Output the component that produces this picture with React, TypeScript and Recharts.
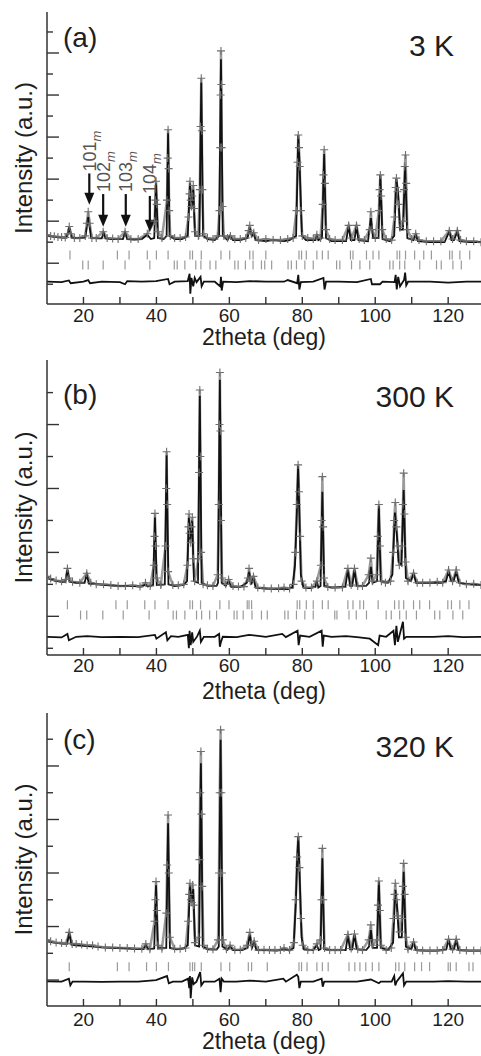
import { ComposedChart, Line, ReferenceLine, Scatter, XAxis, YAxis } from 'recharts'

type Pt = [number, number]

const FONT = '"Liberation Sans", Arial, sans-serif'
const INK = '#1e1e1e'
const AXIS = '#333'
const OBS = '#6e6e6e'

const angleTicks = [20, 30, 40, 50, 60, 70, 80, 90, 100, 110, 120]

// ---- panel (a) 3 K ----
const obsA: Pt[] = [
  [10, 2.35], [11, 2.3], [12, 2.28], [13, 2.25], [14, 2.25], [15, 2.22], [15.7, 2.4], [16.1, 2.75], [16.5, 2.4], [17.5, 2.2],
  [19, 2.2], [20.5, 2.3], [20.9, 2.9], [21.3, 3.45], [21.7, 2.9], [22.3, 2.2], [23.5, 2.2], [25.4, 2.5], [26.5, 2.2], [28, 2.18],
  [29.5, 2.15], [31.4, 2.5], [33, 2.15], [35, 2.15], [37.5, 2.4], [39.5, 3.0], [39.7, 4.0], [39.9, 4.9], [40.1, 3.8], [40.4, 2.5],
  [41.5, 2.2], [42.9, 4], [43.1, 6], [43.2, 7.35], [43.35, 5.5], [43.5, 3.5], [43.8, 2.3], [45, 2.2], [46.5, 2.2], [48, 2.25],
  [48.8, 3.2], [49.1, 4.3], [49.2, 4.9], [49.4, 4.0], [49.6, 3.7], [49.8, 4.2], [50.1, 4.7], [50.3, 3.6], [50.6, 2.5], [51.5, 2.3],
  [51.9, 4.5], [52.1, 7.5], [52.3, 9.8], [52.45, 7.3], [52.6, 4.5], [52.9, 2.4], [54, 2.2], [55.5, 2.15], [56.8, 2.3], [57.3, 3.5],
  [57.5, 6.5], [57.6, 9], [57.7, 11.1], [57.8, 9.5], [57.9, 6.5], [58.1, 3.7], [58.5, 2.3], [59.5, 2.2], [60.3, 2.3], [61.5, 2.15],
  [63, 2.15], [64.5, 2.2], [65.3, 2.55], [65.6, 2.8], [66, 2.4], [66.7, 2.45], [68, 2.1], [70, 2.15], [72, 2.1], [74, 2.1],
  [76, 2.15], [77.5, 2.2], [78.4, 3.5], [78.7, 5.8], [78.9, 7.1], [79.1, 6.5], [79.3, 5.6], [79.6, 3.5], [80, 2.3], [81.5, 2.2],
  [83, 2.15], [84, 2.35], [85, 2.2], [85.6, 3.8], [85.8, 5.2], [86, 6.4], [86.2, 4.8], [86.5, 2.6], [87.5, 2.15], [89, 2.1],
  [91, 2.1], [92.7, 2.8], [93.5, 2.2], [94.85, 2.8], [95.6, 2.15], [97, 2.1], [98.5, 2.6], [98.8, 3.45], [99.1, 2.6], [100, 2.2],
  [101, 3.5], [101.2, 4.5], [101.4, 5.2], [101.6, 4.2], [101.9, 2.6], [103, 2.15], [104.5, 2.1], [105.3, 3.2], [105.6, 4.6], [105.8, 5.05],
  [106.1, 4.4], [106.4, 3.8], [106.8, 2.7], [107.7, 3], [107.9, 4.5], [108.1, 5.6], [108.3, 6.15], [108.5, 4.8], [108.8, 2.6], [110, 2.15],
  [111.1, 2.4], [112, 2.1], [114, 2.05], [116, 2.05], [118, 2.05], [120.3, 2.55], [121.2, 2.15], [122.5, 2.55], [123.4, 2.1], [125, 2.05],
  [127, 2.05], [129, 2.0],
]
const calcA: Pt[] = [
  [10, 2.3], [12, 2.25], [14, 2.22], [15.4, 2.22], [16.1, 2.7], [16.8, 2.22], [18, 2.2], [20.5, 2.22], [21.3, 3.2], [22.1, 2.2],
  [24, 2.18], [25, 2.18], [25.5, 2.45], [26, 2.18], [28, 2.15], [30.8, 2.15], [31.4, 2.45], [32, 2.15], [34, 2.12], [36, 2.15],
  [37.5, 2.35], [38.5, 2.15], [39.4, 2.2], [39.9, 4.8], [40.4, 2.2], [42, 2.15], [42.8, 2.3], [43.2, 7.2], [43.6, 2.3], [45, 2.15],
  [47, 2.15], [48.6, 2.3], [49.2, 4.8], [49.6, 3.6], [50.1, 4.5], [50.6, 2.3], [51.8, 2.3], [52.3, 9.6], [52.8, 2.3], [54, 2.15],
  [56, 2.1], [57.2, 2.3], [57.7, 10.7], [58.2, 2.3], [59.5, 2.1], [60.1, 2.3], [61, 2.1], [63, 2.1], [65, 2.2], [65.6, 2.7],
  [66.2, 2.3], [66.6, 2.45], [67.2, 2.1], [70, 2.05], [72, 2.1], [75, 2.05], [76.5, 2.1], [78.3, 2.3], [78.9, 7.1], [79.3, 5.5],
  [79.9, 2.3], [81, 2.1], [83.6, 2.1], [84, 2.3], [84.4, 2.1], [85.4, 2.2], [86, 6.2], [86.5, 2.2], [88, 2.05], [92, 2.05],
  [92.7, 2.75], [93.3, 2.1], [94.3, 2.1], [94.85, 2.75], [95.4, 2.1], [98, 2.05], [98.8, 3.15], [99.4, 2.2], [100.9, 2.2], [101.4, 5.2],
  [102, 2.15], [104, 2.05], [105.2, 2.3], [105.8, 5.0], [106.3, 4.3], [106.8, 2.6], [107.6, 2.6], [108.2, 5.6], [108.8, 2.2], [110.5, 2.1],
  [111.1, 2.35], [111.7, 2.05], [115, 2.0], [119, 2.0], [120.3, 2.5], [120.9, 2.1], [121.6, 2.1], [122.5, 2.5], [123.1, 2.05], [126, 2.0],
  [129, 2.0],
]
const diffA: Pt[] = [
  [10, 0.12], [14, 0.1], [16, 0.18], [16.5, 0.05], [20, 0.12], [21.3, 0.2], [21.8, 0.05], [25, 0.12], [30, 0.1], [31.4, 0.0],
  [32, 0.15], [36, 0.12], [39.9, 0.15], [43.2, 0.25], [43.6, 0.0], [45, 0.12], [48.6, 0.15], [49.1, 0.5], [49.3, -0.45], [49.6, 0.3],
  [50.1, -0.1], [50.5, 0.3], [51, 0.1], [52.1, 0.35], [52.4, -0.1], [53, 0.12], [56, 0.12], [57.5, -0.1], [57.7, 0.35], [57.9, -0.3],
  [58.3, 0.12], [62, 0.1], [65.6, 0.15], [70, 0.12], [75, 0.12], [76, 0.2], [78.6, 0.05], [78.9, 0.45], [79.2, -0.25], [79.6, 0.1],
  [83, 0.12], [85.8, 0.3], [86.1, -0.25], [86.5, 0.12], [90, 0.12], [95, 0.1], [98.8, 0.25], [99.1, 0.0], [101.3, 0.0], [102, 0.12],
  [105.3, 0.1], [105.6, 0.45], [105.9, -0.25], [106.3, 0.35], [106.8, -0.1], [107.9, 0.2], [108.2, 0.55], [108.5, -0.05], [109, 0.12], [115, 0.12],
  [120, 0.08], [125, 0.12], [129, 0.12],
]
const phase1A = [16.3, 29.3, 32.5, 37.5, 40.0, 43.2, 49.2, 49.9, 52.3, 57.7, 60.1, 65.6, 66.5, 70, 79.1, 79.8, 81.1, 84, 85.5, 87.1,
  93.2, 93.9, 97.6, 99.4, 101, 106, 106.7, 108.3, 110.8, 113.3, 115.4, 120.4, 121.1, 123.2, 125.9]
const phase2A = [19.8, 21.3, 25.4, 31.4, 38.2, 44.9, 45.7, 47.8, 50.8, 52.2, 54.7, 56.3, 61.5, 62.4, 64.4, 66.5, 68.8, 69.7, 71.6, 76.1,
  77.0, 78.4, 80.7, 83, 89.4, 90.3, 93.5, 95.8, 98.5, 104, 104.9, 106.7, 108.1, 112.2, 116.8, 118.1, 121.3, 123.6]

// superlattice arrows in panel (a)
const arrowLabels = ['101', '102', '103', '104']
const arrowAngle = [21.6, 25.4, 31.6, 38.2]
const arrowTip = [3.78, 2.74, 2.74, 2.5]
const arrowTail = [5.27, 4.29, 4.29, 4.2]

// ---- panel (b) 300 K ----
const obsB: Pt[] = [
  [10, 2.25], [11, 2.18], [12.5, 2.12], [14, 2.1], [15.2, 2.15], [15.6, 2.5], [16.0, 2.2], [17, 2.08], [19, 2.05], [20.9, 2.35],
  [22, 2.05], [23.5, 2.0], [25.5, 2.0], [27.5, 1.98], [29.5, 1.95], [31.5, 1.95], [33.5, 1.97], [35.5, 1.93], [37, 2.05], [38.3, 1.95],
  [39.3, 2.6], [39.5, 3.5], [39.6, 4.22], [39.75, 3.2], [40, 2.2], [41.2, 1.98], [42.5, 3.2], [42.7, 5.0], [42.8, 6.15], [42.95, 4.5],
  [43.2, 2.4], [44.5, 1.98], [46, 1.97], [47.5, 2.0], [48.5, 2.6], [48.8, 3.8], [48.95, 4.2], [49.1, 3.6], [49.4, 3.3], [49.6, 3.8],
  [49.85, 4.1], [50.1, 2.8], [50.5, 2.1], [51.5, 2.8], [51.7, 5.5], [51.9, 8.08], [52.05, 6.0], [52.25, 3.0], [52.8, 2.0], [54, 1.97],
  [55.5, 1.95], [56.8, 2.3], [57.1, 4.5], [57.3, 7.0], [57.4, 8.63], [57.55, 6.8], [57.7, 4.0], [58.0, 2.2], [59, 2.0], [59.8, 2.15],
  [61, 1.95], [62.5, 1.93], [64, 1.93], [65.1, 2.2], [65.4, 2.5], [65.8, 2.1], [66.6, 2.25], [67.8, 1.9], [69.5, 1.88], [71.5, 1.87],
  [73.5, 1.88], [75, 1.9], [76.5, 1.87], [77.6, 2.0], [78.1, 3.0], [78.5, 4.5], [78.85, 5.74], [79.1, 4.9], [79.4, 3.5], [79.8, 2.1],
  [81, 1.9], [82.5, 1.9], [84, 2.1], [85.1, 2.6], [85.3, 4.0], [85.5, 5.37], [85.7, 3.8], [85.95, 2.2], [87, 1.92], [89, 1.9],
  [91, 1.9], [92.5, 2.5], [93.4, 1.98], [94.3, 2.5], [95.2, 1.95], [96.5, 1.95], [98.2, 2.3], [98.8, 2.82], [99.3, 2.1], [100.4, 2.3],
  [100.7, 3.5], [101, 4.5], [101.3, 3.2], [101.7, 2.1], [102.8, 2.05], [104.2, 2.1], [104.9, 3.0], [105.2, 4.0], [105.5, 4.56], [105.8, 3.8],
  [106.2, 3.2], [106.6, 2.6], [107.3, 3.2], [107.6, 4.5], [107.8, 5.48], [108.0, 4.2], [108.3, 2.7], [109, 2.1], [110.5, 2.35], [111.5, 2.05],
  [113, 2.05], [115, 2.05], [117, 2.08], [118.5, 2.05], [120.1, 2.45], [121.2, 2.1], [122.2, 2.45], [123.2, 2.05], [125, 2.0], [127, 2.02],
  [129, 1.98],
]
const calcB: Pt[] = [
  [10, 2.2], [12, 2.12], [14, 2.08], [15.0, 2.08], [15.6, 2.45], [16.2, 2.08], [18, 2.05], [20.3, 2.05], [20.9, 2.3], [21.5, 2.02],
  [24, 2.0], [27, 1.97], [30, 1.95], [33, 1.95], [36, 1.93], [37, 2.0], [37.6, 1.93], [39.1, 1.98], [39.6, 4.1], [40.1, 1.98],
  [42.3, 2.0], [42.8, 6.05], [43.3, 2.0], [45, 1.95], [47.5, 1.98], [48.4, 2.1], [48.9, 4.1], [49.3, 3.4], [49.8, 4.0], [50.3, 2.1],
  [51.4, 2.05], [51.9, 7.9], [52.4, 2.05], [54, 1.95], [56.5, 1.95], [56.9, 2.05], [57.4, 8.4], [57.9, 2.05], [59, 1.95], [59.8, 2.1],
  [60.5, 1.92], [63, 1.92], [64.8, 2.05], [65.4, 2.4], [66, 2.0], [66.6, 2.2], [67.2, 1.9], [70, 1.87], [73, 1.86], [76, 1.85],
  [77.3, 1.9], [78.0, 2.6], [78.5, 4.2], [78.85, 5.7], [79.2, 4.2], [79.6, 2.3], [80.3, 1.9], [82, 1.88], [83.6, 1.92], [84, 2.1],
  [84.4, 1.9], [85, 1.95], [85.5, 4.9], [86, 1.95], [88, 1.9], [91.8, 1.92], [92.5, 2.45], [93.1, 1.95], [93.7, 1.95], [94.3, 2.45],
  [94.9, 1.95], [97.5, 1.95], [98.3, 2.05], [98.8, 2.55], [99.3, 2.05], [100.5, 2.1], [101, 4.45], [101.5, 2.1], [103.5, 2.05], [104.7, 2.3],
  [105.4, 4.25], [105.9, 3.6], [106.4, 2.7], [107.2, 2.6], [107.8, 4.95], [108.4, 2.2], [109.8, 2.1], [110.5, 2.33], [111.2, 2.05], [114, 2.05],
  [118, 2.05], [119.4, 2.1], [120.1, 2.4], [120.8, 2.1], [121.5, 2.1], [122.2, 2.4], [122.9, 2.05], [126, 2.0], [129, 1.98],
]
const diffB: Pt[] = [
  [10, 0.36], [14, 0.34], [15.6, 0.45], [16, 0.25], [18, 0.36], [21, 0.38], [25, 0.35], [30, 0.36], [35, 0.35], [39.6, 0.42],
  [40, 0.3], [42.6, 0.5], [43, 0.25], [44, 0.38], [46, 0.36], [48.6, 0.42], [48.9, 0.0], [49.1, 0.55], [49.4, 0.1], [49.8, 0.5],
  [50.1, 0.2], [51.2, 0.38], [51.9, 0.55], [52.2, 0.2], [53, 0.36], [56, 0.36], [57.2, 0.45], [57.4, 0.05], [57.7, 0.2], [58.2, 0.36],
  [62, 0.35], [65.4, 0.42], [70, 0.36], [74.5, 0.45], [75.5, 0.35], [78.7, 0.55], [79, 0.1], [79.4, 0.4], [82, 0.36], [85.3, 0.55],
  [85.6, 0.05], [85.9, 0.4], [88, 0.36], [92, 0.38], [95, 0.35], [98.5, 0.3], [100.8, 0.1], [101.2, 0.4], [103, 0.36], [105, 0.55],
  [105.4, 0.1], [105.8, 0.7], [106.2, 0.2], [107.6, 0.83], [107.9, 0.3], [108.5, 0.36], [112, 0.36], [116, 0.36], [120, 0.38], [124, 0.35],
  [129, 0.36],
]
const phase1B = [15.6, 28.9, 32.0, 36.8, 39.6, 43.2, 49.2, 49.9, 52.1, 57.4, 59.9, 64.9, 65.4, 66.1, 78.6, 79.3, 81.1, 83.0, 85.5, 87.1,
  92.5, 93.9, 95.8, 96.8, 100.8, 105.3, 106.5, 107.8, 110.5, 112.2, 114.9, 119.9, 120.9, 123.2, 125.7]
const phase2B = [19.2, 20.9, 25.3, 30.9, 38, 44.6, 45.5, 47.8, 51, 52.4, 54.6, 56.5, 61.3, 62.1, 63.8, 66.2, 68.8, 70.4, 75.2, 76.1,
  78.4, 80.7, 83, 88.9, 89.5, 92.8, 94.8, 97.6, 103, 104.4, 106.7, 108.5, 111.3, 116.3, 117.7, 121.3, 124]

// ---- panel (c) 320 K ----
const obsC: Pt[] = [
  [10, 1.5], [11, 1.45], [12.5, 1.4], [14, 1.38], [15.3, 1.38], [16.1, 1.78], [16.9, 1.35], [18, 1.35], [19.5, 1.33], [21, 1.3],
  [22.5, 1.3], [24, 1.25], [26, 1.22], [28, 1.22], [30, 1.2], [32, 1.2], [34, 1.18], [36, 1.17], [37.1, 1.35], [38.2, 1.15],
  [39.5, 2.2], [39.7, 3.0], [39.9, 3.68], [40.1, 2.6], [40.4, 1.3], [41.5, 1.17], [42.7, 2.5], [42.95, 4.3], [43.2, 6.17], [43.4, 4.0],
  [43.7, 1.6], [45, 1.17], [46.5, 1.17], [48, 1.2], [48.7, 2.2], [49.0, 3.2], [49.2, 3.62], [49.45, 3.0], [49.7, 2.9], [49.95, 3.55],
  [50.2, 2.8], [50.6, 1.4], [51.6, 1.6], [51.8, 4.5], [52.0, 7.0], [52.2, 8.54], [52.35, 6.2], [52.55, 3.5], [52.9, 1.3], [54, 1.17],
  [55.5, 1.15], [56.9, 1.5], [57.15, 4.0], [57.35, 7.0], [57.6, 9.35], [57.8, 7.0], [57.95, 4.0], [58.2, 1.5], [59.2, 1.15], [60.2, 1.3],
  [61.5, 1.13], [63, 1.13], [64.8, 1.3], [65.6, 1.78], [66.1, 1.3], [66.8, 1.45], [68, 1.12], [69.5, 1.13], [71, 1.12], [72.5, 1.12],
  [74, 1.12], [75, 1.2], [76.5, 1.12], [77.7, 1.4], [78.2, 3.0], [78.6, 4.6], [78.9, 5.36], [79.2, 4.2], [79.6, 2.3], [80.1, 1.3],
  [81.5, 1.12], [83, 1.13], [84, 1.35], [85, 1.5], [85.25, 3.0], [85.5, 4.92], [85.75, 3.0], [86.1, 1.2], [87.5, 1.12], [89, 1.12],
  [90.5, 1.12], [92.5, 1.7], [93.4, 1.18], [94.3, 1.72], [95.2, 1.15], [96.5, 1.12], [98.2, 1.5], [98.8, 2.06], [99.3, 1.3], [100.5, 1.5],
  [100.75, 2.8], [101, 3.7], [101.25, 2.6], [101.6, 1.3], [103, 1.12], [104.4, 1.2], [105, 2.3], [105.3, 3.2], [105.5, 3.62], [105.8, 3.0],
  [106.2, 2.4], [106.7, 1.8], [107.3, 2.3], [107.6, 3.5], [107.8, 4.36], [108.05, 3.2], [108.4, 1.6], [109, 1.15], [110.5, 1.42], [111.5, 1.12],
  [113, 1.1], [115, 1.1], [117, 1.1], [118.5, 1.12], [120.1, 1.52], [121.2, 1.15], [122.2, 1.52], [123.2, 1.12], [125, 1.1], [127, 1.1],
  [129, 1.1],
]
const calcC: Pt[] = [
  [10, 1.45], [12, 1.4], [14, 1.36], [15.5, 1.35], [16.1, 1.75], [16.7, 1.32], [18, 1.3], [20, 1.28], [22, 1.26], [25, 1.22],
  [28, 1.2], [31, 1.18], [34, 1.17], [36.5, 1.16], [37.1, 1.3], [37.7, 1.15], [39.4, 1.18], [39.9, 3.55], [40.4, 1.18], [42.7, 1.2],
  [43.2, 5.86], [43.7, 1.2], [45.5, 1.15], [47.5, 1.18], [48.6, 1.3], [49.2, 3.55], [49.6, 2.9], [50.1, 3.4], [50.6, 1.3], [51.7, 1.25],
  [52.2, 8.1], [52.7, 1.25], [54, 1.15], [56.5, 1.14], [57.1, 1.25], [57.6, 8.98], [58.1, 1.25], [59.5, 1.13], [60.2, 1.25], [61, 1.12],
  [63.5, 1.12], [65, 1.2], [65.6, 1.7], [66.2, 1.2], [66.8, 1.4], [67.4, 1.12], [70, 1.12], [73, 1.1], [75, 1.15], [76.5, 1.1],
  [77.6, 1.2], [78.2, 2.8], [78.6, 4.5], [78.9, 5.36], [79.3, 3.8], [79.8, 1.6], [80.4, 1.15], [83, 1.12], [84, 1.3], [84.5, 1.12],
  [85, 1.15], [85.5, 4.55], [86, 1.15], [88, 1.12], [91.9, 1.12], [92.5, 1.65], [93.1, 1.15], [93.7, 1.15], [94.3, 1.7], [94.9, 1.15],
  [97.5, 1.12], [98.3, 1.25], [98.8, 1.87], [99.3, 1.2], [100.5, 1.2], [101, 3.68], [101.5, 1.2], [103.5, 1.12], [104.9, 1.4], [105.5, 3.37],
  [105.9, 2.9], [106.5, 1.6], [107.3, 1.6], [107.8, 4.05], [108.4, 1.25], [109.9, 1.15], [110.5, 1.4], [111.1, 1.12], [114, 1.1], [117, 1.1],
  [119.5, 1.15], [120.1, 1.5], [120.7, 1.15], [121.6, 1.15], [122.2, 1.5], [122.8, 1.12], [126, 1.1], [129, 1.1],
]
const diffC: Pt[] = [
  [10, -0.05], [14, -0.06], [16, 0.05], [16.4, -0.2], [17, -0.06], [20, -0.06], [25, -0.07], [30, -0.06], [35, -0.06], [39.9, 0.0],
  [42.9, 0.15], [43.4, -0.12], [44.5, -0.06], [47, -0.06], [48.7, 0.05], [49.0, -0.3], [49.2, 0.15], [49.4, -0.68], [49.8, 0.1], [50.2, -0.15],
  [51.0, -0.06], [52.0, 0.3], [52.3, -0.2], [53, -0.06], [56, -0.06], [57.3, 0.05], [57.6, -0.45], [57.9, 0.05], [58.5, -0.06], [62, -0.06],
  [65.5, -0.02], [70, -0.06], [74.8, 0.05], [75.5, -0.06], [78.5, 0.2], [78.9, 0.12], [79.2, -0.3], [79.6, -0.06], [83, -0.06], [85.3, 0.05],
  [85.6, -0.25], [86, -0.06], [90, -0.06], [95, -0.06], [98.8, 0.02], [101, -0.12], [101.5, -0.06], [104.5, -0.06], [105.2, 0.15], [105.5, -0.2],
  [105.9, -0.05], [107.6, 0.25], [107.9, -0.2], [108.5, -0.06], [112, -0.06], [116, -0.06], [120, -0.04], [125, -0.06], [129, -0.06],
]
const phaseC = [16.1, 29.3, 32.5, 37.3, 40.0, 43.3, 49.2, 49.9, 50.5, 52.3, 57.7, 60.1, 65.2, 66.1, 70.4, 79.1, 79.8, 81.3, 84, 85.5,
  87.1, 92.8, 94.4, 95.8, 97.4, 99.2, 101, 105.6, 106.5, 108.1, 110.8, 112.7, 114.9, 120, 120.6, 122.2, 125.7, 126.8]

const rows = (pts: Pt[]) => pts.map(([t, v]) => ({ t, v }))
const tickRow = (ts: number[], v: number) => ts.map((t) => ({ t, v }))

function PlusDot(p: any) {
  if (p.cx == null || p.cy == null) return <g key={p.index} />
  return <path key={p.index} d={`M${p.cx - 4},${p.cy}h8M${p.cx},${p.cy - 4}v8`} stroke={OBS} strokeWidth={1.1} fill="none" />
}

function PhaseTick(p: any) {
  return <line x1={p.cx} x2={p.cx} y1={p.cy - 4.5} y2={p.cy + 4.5} stroke="#9a9a9a" strokeWidth={1.2} />
}

function arrowShape(label: string) {
  return (p: any) => (
    <g>
      <line x1={p.x1} x2={p.x2} y1={p.y1} y2={p.y2 - 10} stroke="#111" strokeWidth={2.2} />
      <polygon points={`${p.x2 - 5},${p.y2 - 12} ${p.x2 + 5},${p.y2 - 12} ${p.x2},${p.y2}`} fill="#111" />
      <text transform={`translate(${p.x1 + 6.5},${p.y1 - 2}) rotate(-90)`} fontSize={18} fill="#555" fontFamily={FONT}>
        {label}
        <tspan fontSize={13} fontStyle="italic" dy={5}>m</tspan>
      </text>
    </g>
  )
}

function XTick({ x, y, payload, dir, labelDy }: any) {
  return (
    <g>
      <line x1={x} x2={x} y1={y} y2={y + dir * 7} stroke={AXIS} strokeWidth={1.4} />
      {labelDy != null && payload.value % 20 === 0 && (
        <text x={x} y={y + labelDy} textAnchor="middle" fontSize={19} fill={INK} fontFamily={FONT}>
          {payload.value}
        </text>
      )}
    </g>
  )
}

function YTick({ x, y, payload, dir, long }: any) {
  const len = long.includes(payload.value) ? 12 : 6
  return <line x1={x} x2={x + dir * len} y1={y} y2={y} stroke={AXIS} strokeWidth={1.4} />
}

type PanelProps = {
  top: number
  plotH: number
  yDomain: [number, number]
  yTicks: number[]
  longTicks: number[]
  obs: Pt[]
  calc: Pt[]
  diff: Pt[]
  phases: { t: number; v: number }[][]
  name: string
  temp: string
  nameY: number
  tempY: number
  labelDy: number
  titleOffset: number
  arrows?: boolean
}

function Panel(props: PanelProps) {
  const { top, plotH, yDomain, yTicks, longTicks } = props
  const W = 481
  const H = plotH + 50
  return (
    <div style={{ position: 'absolute', left: 0, top, width: W, height: H }}>
      <ComposedChart width={W} height={H} margin={{ top: 0, right: 0, bottom: 0, left: 0 }}>
        <XAxis
          dataKey="t" type="number" domain={[10, 129]} allowDataOverflow ticks={angleTicks} interval={0}
          height={50} tickSize={0} tickMargin={0} tickLine={false}
          axisLine={{ stroke: AXIS, strokeWidth: 1.5 }}
          tick={(p: any) => <XTick {...p} dir={-1} labelDy={props.labelDy} />}
          label={{ value: '2theta (deg)', position: 'insideBottom', offset: props.titleOffset, fontSize: 23, fill: INK, fontFamily: FONT }}
        />
        <XAxis
          xAxisId="top" orientation="top" dataKey="t" type="number" domain={[10, 129]} allowDataOverflow ticks={angleTicks}
          interval={0} height={0} tickSize={0} tickMargin={0} tickLine={false}
          axisLine={{ stroke: AXIS, strokeWidth: 1.5 }}
          tick={(p: any) => <XTick {...p} dir={1} />}
        />
        <YAxis
          dataKey="v" type="number" domain={yDomain} allowDataOverflow ticks={yTicks} interval={0} width={47}
          tickSize={0} tickMargin={0} tickLine={false}
          axisLine={{ stroke: AXIS, strokeWidth: 1.5 }}
          tick={(p: any) => <YTick {...p} dir={1} long={longTicks} />}
          label={{ value: 'Intensity (a.u.)', angle: -90, position: 'center', fontSize: 24, fill: INK, fontFamily: FONT }}
        />
        <YAxis
          yAxisId="right" orientation="right" dataKey="v" type="number" domain={yDomain} allowDataOverflow ticks={yTicks}
          interval={0} width={0} tickSize={0} tickMargin={0} tickLine={false}
          axisLine={{ stroke: AXIS, strokeWidth: 1.5 }}
          tick={(p: any) => <YTick {...p} dir={-1} long={longTicks} />}
        />
        <Line data={rows(props.obs)} dataKey="v" type="linear" stroke="#9a9a9a" strokeWidth={2.5} dot={PlusDot} activeDot={false} isAnimationActive={false} />
        <Line data={rows(props.calc)} dataKey="v" type="linear" stroke="#111" strokeWidth={1.8} dot={false} activeDot={false} isAnimationActive={false} />
        {props.phases.map((ph, i) => (
          <Scatter key={i} data={ph} shape={PhaseTick} isAnimationActive={false} />
        ))}
        <Line
          data={rows(props.diff)} xAxisId="top" yAxisId="right" dataKey="v" type="linear" stroke="#111" strokeWidth={1.8}
          dot={false} activeDot={false} isAnimationActive={false}
        />
        {props.arrows &&
          arrowLabels.map((lab, i) => (
            <ReferenceLine
              key={lab}
              segment={[{ x: arrowAngle[i], y: arrowTail[i] }, { x: arrowAngle[i], y: arrowTip[i] }]}
              shape={arrowShape(lab)}
            />
          ))}
      </ComposedChart>
      <svg width={W} height={H} style={{ position: 'absolute', left: 0, top: 0, pointerEvents: 'none' }}>
        <text x={63} y={props.nameY} fontSize={28} fill={INK} fontFamily={FONT}>{props.name}</text>
        <text x={454} y={props.tempY} fontSize={30} fill={INK} fontFamily={FONT} textAnchor="end">{props.temp}</text>
      </svg>
    </div>
  )
}

export default function App() {
  return (
    <div style={{ position: 'absolute', left: 0, top: 0, width: 481, height: 1056, overflow: 'hidden', background: '#fff' }}>
      <Panel
        top={12} plotH={292} yDomain={[-0.94, 12.95]} yTicks={[0, 1, 2, 3, 4, 5, 6, 7, 8, 9, 10, 11, 12]}
        longTicks={[1, 3, 5, 7, 9, 11]} obs={obsA} calc={calcA} diff={diffA}
        phases={[tickRow(phase1A, 1.39), tickRow(phase2A, 0.92)]}
        name="(a)" temp="3 K" nameY={35} tempY={44} labelDy={18} titleOffset={9} arrows
      />
      <Panel
        top={360} plotH={295} yDomain={[-0.21, 9.02]} yTicks={[0, 1, 2, 3, 4, 5, 6, 7, 8]}
        longTicks={[1, 3, 5, 7]} obs={obsB} calc={calcB} diff={diffB}
        phases={[tickRow(phase1B, 1.36), tickRow(phase2B, 1.04)]}
        name="(b)" temp="300 K" nameY={44} tempY={47} labelDy={17} titleOffset={6}
      />
      <Panel
        top={713} plotH={293} yDomain={[-0.97, 9.98]} yTicks={[0, 1, 2, 3, 4, 5, 6, 7, 8, 9]}
        longTicks={[0, 2, 4, 6, 8]} obs={obsC} calc={calcC} diff={diffC}
        phases={[tickRow(phaseC, 0.5)]}
        name="(c)" temp="320 K" nameY={36} tempY={44} labelDy={20} titleOffset={7}
      />
    </div>
  )
}
